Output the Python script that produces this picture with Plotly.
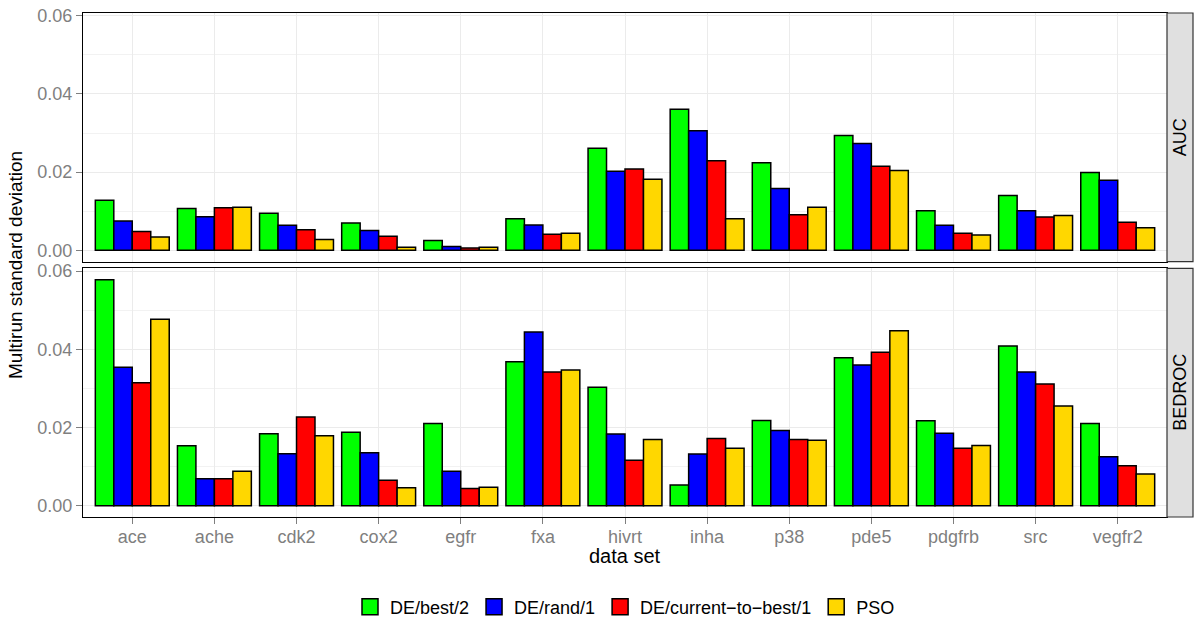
import plotly.graph_objects as go

categories = ["ace", "ache", "cdk2", "cox2", "egfr", "fxa", "hivrt", "inha",
              "p38", "pde5", "pdgfrb", "src", "vegfr2"]
series_names = ["DE/best/2", "DE/rand/1", "DE/current\u2212to\u2212best/1", "PSO"]
colors = ["#00FF00", "#0000FF", "#FF0000", "#FFD700"]

auc_de_best2 = [0.0128, 0.0107, 0.0095, 0.0070, 0.0025, 0.0081, 0.0261, 0.0361, 0.0224, 0.0294, 0.0101, 0.0140, 0.0199]
auc_de_rand1 = [0.0075, 0.0086, 0.0064, 0.0051, 0.0010, 0.0065, 0.0202, 0.0306, 0.0158, 0.0273, 0.0064, 0.0101, 0.0179]
auc_de_ctb1 = [0.0048, 0.0109, 0.0053, 0.0036, 0.0006, 0.0041, 0.0208, 0.0229, 0.0091, 0.0215, 0.0044, 0.0085, 0.0072]
auc_pso = [0.0034, 0.0110, 0.0028, 0.0008, 0.0008, 0.0044, 0.0182, 0.0081, 0.0110, 0.0204, 0.0039, 0.0089, 0.0058]

bedroc_de_best2 = [0.0578, 0.0153, 0.0184, 0.0188, 0.0210, 0.0368, 0.0303, 0.0053, 0.0218, 0.0378, 0.0217, 0.0408, 0.0210]
bedroc_de_rand1 = [0.0354, 0.0069, 0.0133, 0.0135, 0.0088, 0.0444, 0.0183, 0.0132, 0.0192, 0.0360, 0.0185, 0.0342, 0.0125]
bedroc_de_ctb1 = [0.0314, 0.0069, 0.0227, 0.0065, 0.0044, 0.0342, 0.0116, 0.0172, 0.0169, 0.0392, 0.0147, 0.0311, 0.0102]
bedroc_pso = [0.0477, 0.0088, 0.0179, 0.0046, 0.0047, 0.0347, 0.0169, 0.0147, 0.0167, 0.0447, 0.0154, 0.0255, 0.0081]

y_ticks = [0.0, 0.02, 0.04, 0.06]
panel_labels = ["AUC", "BEDROC"]

auc = [auc_de_best2, auc_de_rand1, auc_de_ctb1, auc_pso]
bedroc = [bedroc_de_best2, bedroc_de_rand1, bedroc_de_ctb1, bedroc_pso]

W, H = 1200, 632
L, R, T, B = 83, 1167, 13, 517
plot_h = B - T
top_dom = [(B - 261.7) / plot_h, 1.0]
bot_dom = [0.0, (B - 268.3) / plot_h]

fig = go.Figure()
for i, name in enumerate(series_names):
    fig.add_trace(go.Bar(x=categories, y=auc[i], name=name, marker_color=colors[i],
                         marker_line=dict(color="black", width=1.5),
                         xaxis="x2", yaxis="y2", legendgroup=name, showlegend=False))
for i, name in enumerate(series_names):
    fig.add_trace(go.Bar(x=categories, y=bedroc[i], name=name, marker_color=colors[i],
                         marker_line=dict(color="black", width=1.5),
                         xaxis="x", yaxis="y", legendgroup=name, showlegend=False))
# legend-only entries (larger square keys like the ggplot legend)
for i, name in enumerate(series_names):
    fig.add_trace(go.Scatter(x=[None], y=[None], mode="markers", name=name,
                             marker=dict(symbol="square", size=16, color=colors[i],
                                         line=dict(color="black", width=1.5)),
                             xaxis="x", yaxis="y", legendgroup=name, showlegend=True))

font_family = "Liberation Sans, Arial, sans-serif"
grid = "#EBEBEB"
tickgray = "#7F7F7F"

xcommon = dict(type="category", range=[-0.6, len(categories) - 0.4],
               showgrid=True, gridcolor=grid, gridwidth=1,
               showline=True, linecolor="black", linewidth=1.2, mirror=True,
               ticks="outside", ticklen=6, tickcolor=tickgray, tickwidth=1,
               tickfont=dict(size=18, color=tickgray), zeroline=False,
               categoryorder="array", categoryarray=categories)
ycommon = dict(range=[-0.0029, 0.0607], tickvals=y_ticks, tickformat=".2f",
               showgrid=True, gridcolor=grid, gridwidth=1,
               minor=dict(tickvals=[0.01, 0.03, 0.05], showgrid=True, gridcolor="#F2F2F2", gridwidth=0.6, ticks=""),
               showline=True, linecolor="black", linewidth=1.2, mirror=True,
               ticks="outside", ticklen=6, tickcolor=tickgray, tickwidth=1,
               tickfont=dict(size=18, color=tickgray), zeroline=False)

fig.update_layout(
    width=W, height=H,
    margin=dict(l=L, r=W - R, t=T, b=H - B, autoexpand=False),
    paper_bgcolor="white", plot_bgcolor="white",
    font=dict(family=font_family, color="black"),
    barmode="group", bargap=0.1, bargroupgap=0.0,
    xaxis=dict(**xcommon, domain=[0, 1], anchor="y", ticklabelstandoff=-3),
    yaxis=dict(**ycommon, domain=bot_dom, anchor="x"),
    xaxis2=dict(**xcommon, domain=[0, 1], anchor="y2", showticklabels=False),
    yaxis2=dict(**ycommon, domain=top_dom, anchor="x2"),
    legend=dict(orientation="h", x=0.5, xanchor="center", y=(B - 607) / plot_h, yanchor="middle",
                font=dict(size=18, color="black"), traceorder="normal", itemwidth=30,
                bgcolor="rgba(0,0,0,0)"),
    showlegend=True,
)
fig.update_layout(xaxis2=dict(ticklen=0))

strip_x1 = (1193 - L) / (R - L)
for dom, label in [(top_dom, panel_labels[0]), (bot_dom, panel_labels[1])]:
    fig.add_shape(type="rect", xref="paper", yref="paper", x0=1.0, x1=strip_x1,
                  y0=dom[0], y1=dom[1], fillcolor="#E0E0E0",
                  line=dict(color="#333333", width=1.2), layer="above")
    fig.add_annotation(xref="paper", yref="paper", x=(1.0 + strip_x1) / 2, y=(dom[0] + dom[1]) / 2,
                       text=label, textangle=-90, showarrow=False,
                       font=dict(size=18, color="black"), xanchor="center", yanchor="middle")

fig.add_annotation(xref="paper", yref="paper", x=0.5, y=(B - 556) / plot_h, text="data set",
                   showarrow=False, font=dict(size=20, color="black"), xanchor="center", yanchor="middle")
fig.add_annotation(xref="paper", yref="paper", x=(15 - L) / (R - L), y=0.5,
                   text="Multirun standard deviation", textangle=-90,
                   showarrow=False, font=dict(size=19, color="black"), xanchor="center", yanchor="middle")

fig.write_html("out.html", config={"displayModeBar": False},
               post_script="document.body.style.margin='0px';")
